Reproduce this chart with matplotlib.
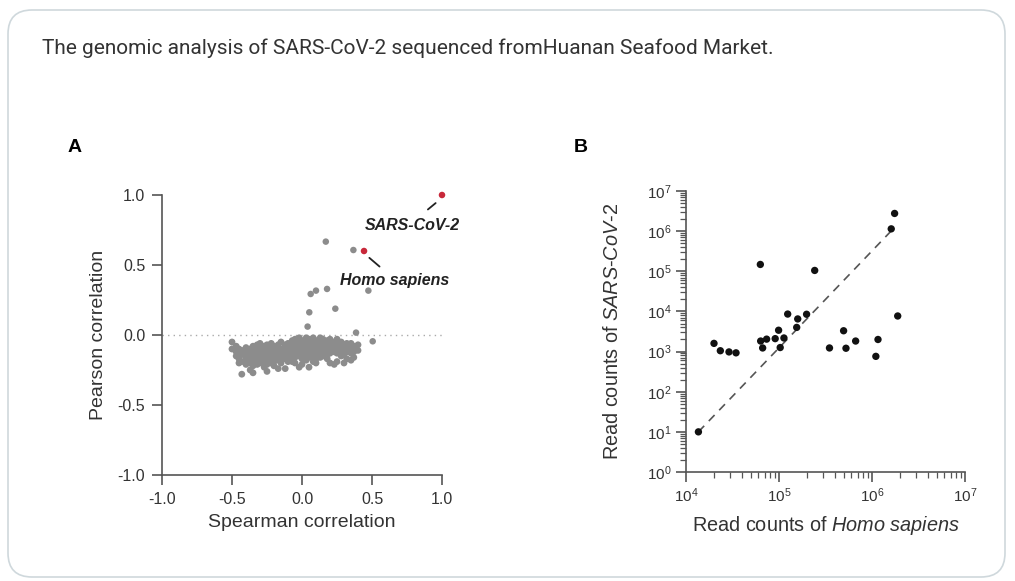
import matplotlib
matplotlib.use("Agg")
import matplotlib.pyplot as plt
from matplotlib.patches import FancyBboxPatch

plt.rcParams["font.family"] = ["Liberation Sans", "DejaVu Sans"]
plt.rcParams["mathtext.fontset"] = "custom"
plt.rcParams["mathtext.rm"] = "Liberation Sans"
plt.rcParams["mathtext.it"] = "Liberation Sans:italic"
plt.rcParams["mathtext.bf"] = "Liberation Sans:bold"

# ---- panel A data (Spearman vs Pearson) ----
# background cluster, stored per Spearman column: (x, [pearson values])
cluster_cols = [
    (-0.50, [-0.05, -0.10]),
    (-0.47, [-0.12, -0.15, -0.08]),
    (-0.45, [-0.20, -0.13, -0.17, -0.10]),
    (-0.43, [-0.28, -0.11, -0.14, -0.19]),
    (-0.40, [-0.09, -0.13, -0.16, -0.21, -0.18, -0.12]),
    (-0.37, [-0.25, -0.10, -0.14, -0.17, -0.12, -0.20]),
    (-0.35, [-0.27, -0.08, -0.13, -0.16, -0.19, -0.11, -0.22]),
    (-0.32, [-0.07, -0.12, -0.15, -0.18, -0.10, -0.21, -0.14]),
    (-0.30, [-0.09, -0.13, -0.17, -0.20, -0.11, -0.15, -0.06]),
    (-0.27, [-0.08, -0.12, -0.16, -0.19, -0.23, -0.14, -0.10, -0.17]),
    (-0.25, [-0.26, -0.07, -0.11, -0.15, -0.18, -0.13, -0.21]),
    (-0.22, [-0.09, -0.12, -0.14, -0.17, -0.20, -0.06, -0.11, -0.16]),
    (-0.20, [-0.08, -0.13, -0.15, -0.19, -0.10, -0.22, -0.17]),
    (-0.17, [-0.24, -0.07, -0.11, -0.14, -0.18, -0.12, -0.16, -0.09]),
    (-0.15, [-0.10, -0.13, -0.16, -0.20, -0.05, -0.12, -0.18]),
    (-0.12, [-0.24, -0.08, -0.11, -0.14, -0.17, -0.13, -0.07]),
    (-0.10, [-0.06, -0.10, -0.13, -0.15, -0.19, -0.12, -0.09, -0.16]),
    (-0.07, [-0.19, -0.04, -0.08, -0.11, -0.14, -0.17, -0.12]),
    (-0.05, [-0.03, -0.07, -0.10, -0.13, -0.16, -0.20, -0.09]),
    (-0.02, [-0.23, -0.05, -0.09, -0.12, -0.15, -0.11, -0.02]),
    (0.00, [-0.04, -0.07, -0.10, -0.13, -0.17, -0.21, -0.08]),
    (0.03, [-0.02, -0.06, -0.09, -0.12, -0.15, -0.18, -0.11]),
    (0.05, [-0.23, -0.03, -0.07, -0.10, -0.13, -0.16, -0.08]),
    (0.08, [-0.02, -0.05, -0.09, -0.12, -0.15, -0.19, -0.07]),
    (0.10, [-0.20, -0.04, -0.08, -0.11, -0.14, -0.06, -0.17]),
    (0.13, [-0.02, -0.06, -0.10, -0.13, -0.16, -0.08, -0.12]),
    (0.15, [-0.03, -0.07, -0.09, -0.12, -0.15, -0.05]),
    (0.18, [-0.17, -0.04, -0.08, -0.11, -0.14, -0.06]),
    (0.20, [-0.03, -0.07, -0.10, -0.13, -0.09, -0.20]),
    (0.23, [-0.05, -0.08, -0.12, -0.21, -0.10]),
    (0.25, [-0.03, -0.06, -0.09, -0.13, -0.19]),
    (0.28, [-0.08, -0.11, -0.15, -0.05]),
    (0.30, [-0.07, -0.10, -0.20, -0.14]),
    (0.32, [-0.09, -0.12, -0.06, -0.17]),
    (0.35, [-0.06, -0.13, -0.10, -0.18]),
    (0.37, [-0.08, -0.16, -0.12]),
    (0.40, [-0.07, -0.11]),
]
# scattered points above the cluster
outlier_spearman = [0.17, 0.367, 0.062, 0.10, 0.179, 0.474, 0.052, 0.238, 0.04, 0.386, 0.505]
outlier_pearson = [0.667, 0.607, 0.293, 0.317, 0.329, 0.317, 0.162, 0.188, 0.06, 0.017, -0.045]
# highlighted species
hl_names = ["SARS-CoV-2", "Homo sapiens"]
hl_spearman = [1.0, 0.443]
hl_pearson = [1.0, 0.60]

# ---- panel B data (read counts) ----
homo_counts = [13600, 20000, 23400, 29000, 34500, 63000, 63500, 66700, 73600, 91000,
               99000, 103000, 113000, 124000, 155000, 159000, 198000, 242000, 349000,
               495000, 525000, 667000, 1.10e6, 1.16e6, 1.61e6, 1.75e6, 1.89e6]
sars_counts = [10, 1600, 1050, 980, 930, 148000, 1830, 1230, 2040, 2100,
               3400, 1260, 2180, 8600, 4000, 6500, 8500, 105000, 1230,
               3300, 1210, 1830, 760, 2000, 1.14e6, 2.76e6, 7700]
trend_x = [13600, 1.6e6]
trend_y = [10, 1.0e6]

cl_x = [x for x, ys in cluster_cols for _ in ys]
cl_y = [y for _, ys in cluster_cols for y in ys]

fig = plt.figure(figsize=(10.15, 5.81), dpi=100)

# card frame (behind the axes)
card = FancyBboxPatch((8, 4), 997, 567, boxstyle="round,pad=0,rounding_size=24",
                      transform=None, facecolor="white", edgecolor="#cfd8dc", lw=1.2,
                      zorder=-10)
fig.patches.append(card)

fig.text(42 / 1015, 1 - 48 / 581,
         "The genomic analysis of SARS-CoV-2 sequenced fromHuanan Seafood Market.",
         fontsize=15, color="#333333", va="center", family=["Roboto", "DejaVu Sans"])
fig.text(68 / 1015, 1 - 148 / 581, "A", fontsize=14, fontweight="bold", va="center")
fig.text(574 / 1015, 1 - 148 / 581, "B", fontsize=14, fontweight="bold", va="center")

axis_col = "#555555"
text_col = "#333333"

# ---- panel A ----
axA = fig.add_axes([162 / 1015, 1 - 475 / 581, 280 / 1015, 280 / 581])
axA.patch.set_alpha(0)
axA.axhline(0, color="#aaaaaa", ls=(0, (1, 3)), lw=1, zorder=1)
axA.scatter(cl_x, cl_y, s=24, color="#8c8c8c", edgecolors="none", zorder=2)
axA.scatter(outlier_spearman, outlier_pearson, s=22, color="#8c8c8c", edgecolors="none", zorder=2)
axA.scatter(hl_spearman, hl_pearson, s=22, color="#c8283a", edgecolors="none", zorder=3, clip_on=False)
axA.annotate("", xy=(0.97, 0.955), xytext=(0.884, 0.884),
             arrowprops=dict(arrowstyle="-", color="#222222", lw=1.3))
axA.text(0.79, 0.78, hl_names[0], fontsize=11.5, fontweight="bold", style="italic",
         ha="center", va="center", color="#222222")
axA.annotate("", xy=(0.466, 0.564), xytext=(0.569, 0.476),
             arrowprops=dict(arrowstyle="-", color="#222222", lw=1.3))
axA.text(0.66, 0.39, hl_names[1], fontsize=11.5, fontweight="bold", style="italic",
         ha="center", va="center", color="#222222")
axA.set_xlim(-1, 1)
axA.set_ylim(-1, 1)
axA.set_xticks([-1.0, -0.5, 0.0, 0.5, 1.0])
axA.set_yticks([-1.0, -0.5, 0.0, 0.5, 1.0])
axA.set_xticklabels(["-1.0", "-0.5", "0.0", "0.5", "1.0"])
axA.set_yticklabels(["-1.0", "-0.5", "0.0", "0.5", "1.0"])
axA.set_xlabel("Spearman correlation", fontsize=14, color=text_col, labelpad=5)
axA.set_ylabel("Pearson correlation", fontsize=14, color=text_col, labelpad=8)
for s in ["top", "right"]:
    axA.spines[s].set_visible(False)
for s in ["left", "bottom"]:
    axA.spines[s].set_color(axis_col)
    axA.spines[s].set_linewidth(1.2)
axA.tick_params(direction="out", length=7, width=1.2, color=axis_col, pad=5,
                labelsize=11.5, labelcolor=text_col)

# ---- panel B ----
axB = fig.add_axes([686 / 1015, 1 - 472 / 581, 279 / 1015, 281 / 581])
axB.patch.set_alpha(0)
axB.plot(trend_x, trend_y, color="#555555", ls=(0, (5, 4)), lw=1.2, zorder=1)
axB.scatter(homo_counts, sars_counts, s=28, color="#111111", edgecolors="none", zorder=2)
axB.set_xscale("log")
axB.set_yscale("log")
axB.set_xlim(1e4, 1e7)
axB.set_ylim(1e0, 1e7)
axB.set_xlabel("Read counts of $\\mathit{Homo\\ sapiens}$", fontsize=14.3, color=text_col,
               labelpad=6)
axB.set_ylabel("Read counts of $\\mathit{SARS}$-$\\mathit{CoV}$-$\\mathit{2}$", fontsize=14.3,
               color=text_col, labelpad=18)
for s in ["top", "right"]:
    axB.spines[s].set_visible(False)
for s in ["left", "bottom"]:
    axB.spines[s].set_color(axis_col)
    axB.spines[s].set_linewidth(1.2)
axB.tick_params(which="major", direction="out", length=7, width=1.2, color=axis_col,
                labelsize=11, labelcolor=text_col)
axB.tick_params(which="minor", direction="out", length=4.5, width=0.9, color=axis_col)

fig.savefig("out.png", dpi=100)
